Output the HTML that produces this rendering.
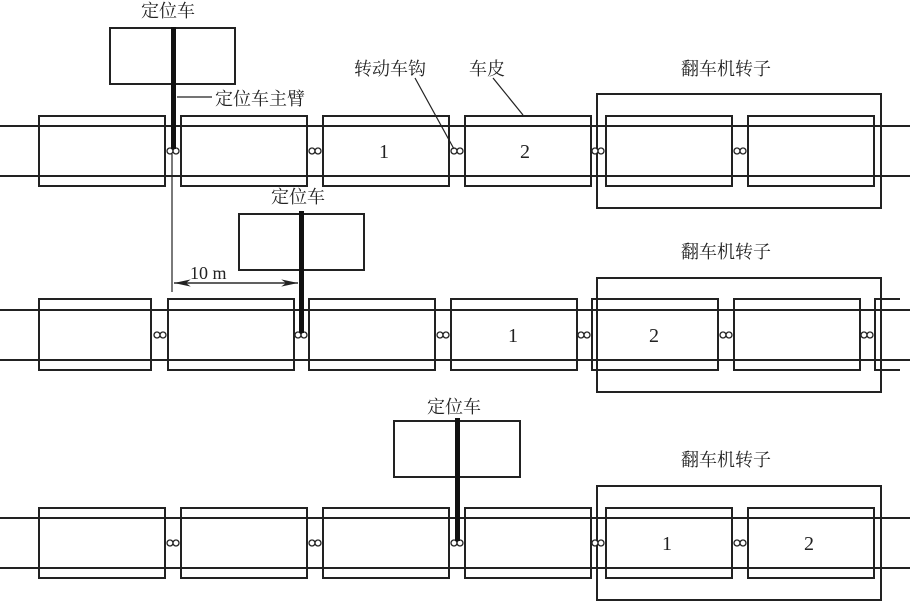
<!DOCTYPE html>
<html><head><meta charset="utf-8"><style>body{margin:0;background:#fff}svg{display:block}text{font-family:"Liberation Serif","Noto Serif CJK SC",serif;fill:#222}</style></head><body>
<svg width="910" height="601" viewBox="0 0 910 601" xmlns="http://www.w3.org/2000/svg">
<defs>
<g id="cp"><circle cx="-3" cy="0" r="3" fill="#fff" stroke="#222" stroke-width="1.3"/><circle cx="3" cy="0" r="3" fill="#fff" stroke="#222" stroke-width="1.3"/></g>
<marker id="ar" markerWidth="14" markerHeight="6" refX="14" refY="3" orient="auto"><path d="M0,0 L14,3 L0,6 L4,3 Z" fill="#222"/></marker>
</defs>
<g stroke="#222" fill="none" stroke-width="2">
<line x1="0" y1="126" x2="910" y2="126"/><line x1="0" y1="176" x2="910" y2="176"/>
<rect x="39" y="116" width="126" height="70"/><rect x="181" y="116" width="126" height="70"/><rect x="323" y="116" width="126" height="70"/><rect x="465" y="116" width="126" height="70"/><rect x="606" y="116" width="126" height="70"/><rect x="748" y="116" width="126" height="70"/>
<rect x="597" y="94" width="284" height="114"/>
<rect x="110" y="28" width="125" height="56"/>
<line x1="0" y1="310" x2="910" y2="310"/><line x1="0" y1="360" x2="910" y2="360"/>
<rect x="39" y="299" width="112" height="71"/><rect x="168" y="299" width="126" height="71"/><rect x="309" y="299" width="126" height="71"/><rect x="451" y="299" width="126" height="71"/><rect x="592" y="299" width="126" height="71"/><rect x="734" y="299" width="126" height="71"/>
<path d="M900,299 H875 V370 H900"/>
<rect x="597" y="278" width="284" height="114"/>
<rect x="239" y="214" width="125" height="56"/>
<line x1="0" y1="518" x2="910" y2="518"/><line x1="0" y1="568" x2="910" y2="568"/>
<rect x="39" y="508" width="126" height="70"/><rect x="181" y="508" width="126" height="70"/><rect x="323" y="508" width="126" height="70"/><rect x="465" y="508" width="126" height="70"/><rect x="606" y="508" width="126" height="70"/><rect x="748" y="508" width="126" height="70"/>
<rect x="597" y="486" width="284" height="114"/>
<rect x="394" y="421" width="126" height="56"/>
</g>
<use href="#cp" x="173" y="151"/><use href="#cp" x="315" y="151"/><use href="#cp" x="457" y="151"/><use href="#cp" x="598" y="151"/><use href="#cp" x="740" y="151"/>
<use href="#cp" x="160" y="335"/><use href="#cp" x="301" y="335"/><use href="#cp" x="443" y="335"/><use href="#cp" x="584" y="335"/><use href="#cp" x="726" y="335"/><use href="#cp" x="867" y="335"/>
<use href="#cp" x="173" y="543"/><use href="#cp" x="315" y="543"/><use href="#cp" x="457" y="543"/><use href="#cp" x="598" y="543"/><use href="#cp" x="740" y="543"/>
<g fill="#111"><rect x="171" y="27" width="5" height="122"/><rect x="299" y="211" width="5" height="122"/><rect x="455" y="418" width="5" height="123"/></g>
<g stroke="#222" stroke-width="1.2" fill="none">
<line x1="177" y1="97" x2="212" y2="97"/>
<line x1="415" y1="78" x2="454" y2="149"/>
<line x1="493" y1="78" x2="523" y2="115"/>
<line x1="172" y1="154" x2="172" y2="292"/>
<line x1="174" y1="283" x2="298" y2="283" marker-end="url(#ar)"/>
<line x1="298" y1="283" x2="174" y2="283" marker-end="url(#ar)"/>
</g>
<g font-size="18">
<text x="141" y="17">定位车</text>
<text x="215" y="105">定位车主臂</text>
<text x="354" y="75">转动车钩</text>
<text x="469" y="75">车皮</text>
<text x="681" y="75">翻车机转子</text>
<text x="271" y="203">定位车</text>
<text x="681" y="258">翻车机转子</text>
<text x="427" y="413">定位车</text>
<text x="681" y="466">翻车机转子</text>
<text x="190" y="279">10 m</text>
</g>
<g font-size="20">
<text x="379" y="158">1</text><text x="520" y="158">2</text>
<text x="508" y="342">1</text><text x="649" y="342">2</text>
<text x="662" y="550">1</text><text x="804" y="550">2</text>
</g>
</svg>
</body></html>
